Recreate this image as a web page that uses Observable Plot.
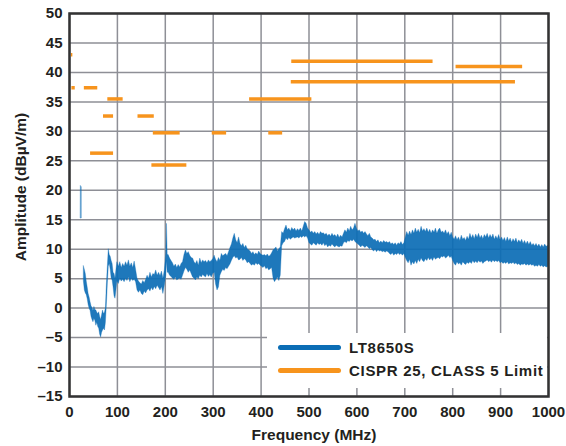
<!DOCTYPE html>
<html><head><meta charset="utf-8">
<script src="https://cdn.jsdelivr.net/npm/d3@7"></script>
<script src="https://cdn.jsdelivr.net/npm/@observablehq/plot@0.6"></script>
<style>
body{margin:0;background:#fff}
#wrap{position:relative;width:566px;height:446px;font-family:"Liberation Sans",Arial,sans-serif}
#legend{position:absolute;left:267px;top:333px;width:280px;height:55px;background:#fff}
.item{position:absolute;left:11px;height:20px;display:flex;align-items:center;font-weight:bold;font-size:15px;letter-spacing:0.7px;color:#231f20;white-space:nowrap}
.sw{width:63px;height:5px;border-radius:3px;margin-right:8px}
</style></head><body>
<div id="wrap"></div>
<script>
// LT8650S measured emission (envelope of the noisy trace), MHz / dBµV/m
const freq = [
24,25.5,27,30,32,34,36,38,40,42,
44,46,48,50,52,54,56,58,60,62,
64,66,68,70,72,74,76,78,80,82,
84,86,88,90,92,94,96,98,100,103,
106,109,112,115,118,121,124,127,130,133,
136,139,142,145,148,151,154,157,160,163,
166,169,172,175,178,181,184,187,190,193,
196,199,202,203.5,205,207,210,213,216,219,
222,225,228,231,234,237,240,243,246,249,
252,255,258,261,264,267,270,273,276,279,
282,285,288,291,294,297,300,303,306,309,
312,315,318,321,324,327,330,333,336,339,
342,345,348,351,354,357,360,363,366,369,
372,375,378,381,384,387,390,393,396,399,
402,405,408,411,414,417,420,423,426,429,
432,435,438,441,444,447,450,453,456,459,
462,465,468,471,474,477,480,483,486,489,
492,495,498,501,504,507,510,513,516,519,
522,525,528,531,534,537,540,543,546,549,
552,555,558,561,564,567,570,573,576,579,
582,585,588,591,594,597,600,603,606,609,
612,615,618,621,624,627,630,633,636,639,
642,645,648,651,654,657,660,663,666,669,
672,675,678,681,684,687,690,693,696,699,
702,705,708,711,714,717,720,723,726,729,
732,735,738,741,744,747,750,753,756,759,
762,765,768,771,774,777,780,783,786,789,
792,795,798,801,804,807,810,813,816,819,
822,825,828,831,834,837,840,843,846,849,
852,855,858,861,864,867,870,873,876,879,
882,885,888,891,894,897,900,903,906,909,
912,915,918,921,924,927,930,933,936,939,
942,945,948,951,954,957,960,963,966,969,
972,975,978,981,984,987,990,993,996,1000];
const low = [
15.2,15.2,NaN,4.5,3.0,2.5,2.2,1.5,0.5,-0.1,
-0.5,-1.5,-2.0,-2.4,-1.8,-2.2,-3.0,-2.5,-3.2,-3.5,
-4.5,-5.0,-4.2,-3.8,-3.5,-3.8,-2.5,0.5,4.0,7.0,
7.5,6.5,5.0,4.7,3.5,2.0,1.6,3.0,4.5,4.1,
5.0,4.5,4.8,4.4,5.0,4.6,5.2,4.4,5.0,4.6,
4.8,4.4,3.0,2.6,3.0,2.4,2.2,2.8,2.5,3.0,
3.2,2.8,3.4,3.0,3.6,3.2,3.8,3.4,3.0,3.6,
2.4,3.8,5.5,8.0,6.0,6.0,5.5,5.3,5.0,4.8,
5.2,4.7,4.9,5.0,4.8,5.5,6.2,6.8,6.5,6.0,
6.4,5.8,5.2,5.0,4.7,5.2,4.9,5.5,5.2,5.6,
5.4,5.2,5.8,5.3,5.6,5.2,5.8,6.0,4.0,3.0,
3.5,5.5,6.1,6.5,6.3,6.8,6.6,7.0,7.4,8.0,
8.5,8.8,8.4,8.6,8.1,8.2,8.5,8.0,8.3,8.1,
7.6,7.8,7.5,7.2,7.4,7.2,7.6,7.3,7.5,7.2,
7.0,6.8,7.1,6.6,6.8,6.4,6.6,6.8,5.0,4.4,
4.8,5.2,4.6,5.5,10.5,11.0,11.2,11.8,11.5,11.9,
11.6,11.8,12.0,11.8,11.9,12.0,11.8,12.1,11.9,12.2,
12.0,12.2,11.8,11.0,10.8,10.6,11.0,10.8,10.6,11.0,
10.7,10.9,10.6,11.0,10.5,10.8,10.3,10.6,10.4,10.8,
10.5,10.3,10.6,10.4,10.3,10.5,10.4,11.0,11.2,11.0,
11.4,11.2,11.5,11.3,11.6,11.2,11.0,10.8,10.6,10.3,
10.6,10.4,10.2,10.5,10.3,10.0,10.2,9.8,9.6,9.9,
9.5,9.8,9.6,9.7,9.5,9.6,9.4,9.6,9.5,9.2,
9.0,9.3,8.9,9.2,9.0,9.3,9.0,9.2,8.9,9.2,
8.5,8.0,7.6,8.2,7.2,7.8,7.4,8.0,7.5,8.2,
7.8,8.4,8.0,7.8,8.3,8.0,8.5,8.1,8.4,8.0,
8.6,8.2,8.4,8.5,8.3,8.7,8.6,8.8,8.4,8.6,
8.9,8.5,8.7,8.0,7.5,7.2,7.8,7.4,7.6,7.2,
7.8,7.5,7.3,7.7,7.5,7.8,7.5,8.0,7.6,7.9,
7.6,8.0,7.7,7.9,7.5,7.8,7.9,8.1,7.8,8.0,
7.7,8.1,7.8,8.0,7.8,8.0,7.6,7.8,7.5,7.7,
7.5,7.8,7.4,7.6,7.5,7.7,7.4,7.6,7.3,7.5,
7.2,7.4,7.3,7.5,7.2,7.4,7.2,7.4,7.2,7.3,
7.0,7.2,7.0,7.3,7.0,7.2,6.9,7.1,6.9,7.0];
const high = [
20.7,20.5,NaN,7.1,6.5,5.8,4.5,3.5,2.4,1.8,
1.0,0.3,0.0,-0.5,0.2,-0.3,-0.4,-0.8,-1.0,-0.7,
-1.5,-2.0,-1.2,-0.4,-1.0,-0.8,0.0,4.0,7.0,10.0,
9.0,8.7,8.0,7.5,6.0,5.8,5.0,6.5,7.8,7.0,
7.8,6.8,7.5,7.0,7.8,7.2,8.1,7.0,7.6,6.8,
7.9,6.5,5.0,4.5,4.2,4.0,4.6,4.2,4.8,5.5,
5.0,6.0,5.2,5.8,5.6,6.4,5.5,6.0,5.4,6.2,
5.0,6.4,9.2,14.3,9.0,9.0,8.4,8.0,7.6,7.0,
7.4,6.8,7.3,6.9,7.5,7.8,9.0,9.8,9.2,9.5,
8.9,8.5,8.4,7.8,7.5,8.0,7.2,8.4,7.6,8.1,
7.8,8.0,7.6,8.1,7.8,8.0,8.3,8.9,8.2,7.8,
8.5,8.0,9.2,8.8,9.0,9.2,8.8,9.5,10.2,10.8,
11.8,12.6,11.5,11.0,12.0,10.9,10.5,10.9,10.2,10.6,
10.0,9.8,9.6,9.2,9.5,9.0,9.3,9.0,9.6,9.2,
9.0,8.9,9.0,8.8,9.1,8.7,8.9,9.3,9.8,10.0,
10.3,9.6,10.0,10.3,12.9,12.6,13.4,14.0,13.2,13.5,
13.0,13.6,13.2,13.5,13.0,13.4,13.1,13.5,13.0,13.8,
14.6,14.3,13.5,13.2,12.8,13.0,12.6,12.9,12.5,12.8,
12.4,12.9,12.6,12.7,12.4,12.6,12.2,12.5,12.1,12.6,
12.2,12.4,12.0,12.5,11.9,12.3,12.0,12.6,13.2,12.8,
13.5,13.0,13.8,13.2,13.5,14.3,13.5,13.0,13.2,12.8,
13.0,12.6,12.9,12.5,12.2,12.6,12.0,11.8,11.5,11.6,
11.2,11.5,11.0,11.3,11.0,11.4,11.1,11.2,11.0,11.2,
10.8,11.0,10.7,11.0,10.6,11.0,10.8,11.2,10.7,11.0,
12.0,12.9,12.3,13.0,12.4,13.2,12.6,13.5,12.8,13.3,
12.7,13.8,13.0,13.4,12.9,13.5,12.8,13.3,12.6,13.2,
12.8,13.5,12.6,13.2,13.5,12.8,13.0,12.6,13.2,12.5,
12.9,12.2,12.8,12.0,11.6,12.2,11.5,12.0,11.4,12.3,
11.6,11.9,11.4,12.1,11.6,12.6,11.8,12.4,11.7,12.5,
11.9,12.6,11.8,12.3,11.7,12.4,12.0,12.6,11.8,12.4,
11.9,12.5,11.6,12.2,11.7,12.4,11.5,12.0,11.4,11.9,
11.2,12.0,11.3,11.8,11.1,11.7,11.2,11.8,11.0,11.5,
11.1,11.6,10.9,11.4,10.8,11.3,10.7,11.2,10.6,10.9,
10.5,10.9,10.4,10.8,10.3,10.7,10.3,10.8,10.4,10.6];

// CISPR 25, Class 5 limit segments
const limStart = [4, 5, 31, 44, 71, 80, 143, 172, 175, 298, 376, 416, 463, 464, 807];
const limEnd   = [7, 12, 59, 92, 92, 112, 177, 245, 231, 328, 506, 445, 931, 759, 946];
const limLevel = [43, 37.4, 37.4, 26.3, 32.6, 35.5, 32.6, 24.3, 29.75, 29.75, 35.5, 29.75, 38.4, 41.9, 41.0];

const xTicks = [0,100,200,300,400,500,600,700,800,900,1000];
const yTicks = [-15,-10,-5,0,5,10,15,20,25,30,35,40,45,50];
const xTitle = "Frequency (MHz)";
const yTitle = "Amplitude (dBµV/m)";
const seriesNames = ["LT8650S", "CISPR 25, CLASS 5 Limit"];
const seriesColors = ["#0b6db5", "#f7941d"];

const gridStyle = {stroke: "#8e8f96", strokeOpacity: 1, strokeWidth: 1.5};

const chart = Plot.plot({
  width: 566, height: 446,
  marginLeft: 69, marginRight: 18, marginTop: 13, marginBottom: 50,
  x: {domain: [0, 1000]},
  y: {domain: [-15, 50]},
  style: {fontFamily: "Liberation Sans, Arial, sans-serif", fontSize: "15px", fontWeight: "bold", color: "#231f20", background: "white"},
  marks: [
    Plot.gridX(xTicks, gridStyle),
    Plot.gridY(yTicks, gridStyle),
    Plot.areaY(freq, {x: freq, y1: low, y2: high, fill: seriesColors[0], fillOpacity: 0.92, stroke: seriesColors[0], strokeOpacity: 0.55, strokeWidth: 0.6}),
    Plot.ruleY(limLevel, {x1: limStart, x2: limEnd, y: limLevel, stroke: seriesColors[1], strokeWidth: 3.5}),
    Plot.frame({stroke: "#333", strokeWidth: 2.5}),
    Plot.axisX(xTicks, {tickSize: 0, tickPadding: 10, label: null, fontSize: 15, fontWeight: "bold", tickFormat: d => String(d)}),
    Plot.axisY(yTicks, {tickSize: 0, tickPadding: 7, label: null, fontSize: 15, fontWeight: "bold", tickFormat: d => String(d).replace("-", "–")}),
    Plot.text([xTitle], {frameAnchor: "bottom", dy: 43, dx: 5, fontSize: 15.5, fontWeight: "bold", fill: "#231f20"}),
    Plot.text([yTitle], {frameAnchor: "left", textAnchor: "middle", dx: -48, dy: -18, rotate: -90, fontSize: 15.5, fontWeight: "bold", fill: "#231f20"})
  ]
});

const wrap = document.getElementById("wrap");
wrap.appendChild(chart);
const legend = document.createElement("div");
legend.id = "legend";
seriesNames.forEach((name, i) => {
  const item = document.createElement("div");
  item.className = "item";
  item.style.top = (4 + i * 23) + "px";
  const sw = document.createElement("span");
  sw.className = "sw";
  sw.style.background = seriesColors[i];
  const label = document.createElement("span");
  label.textContent = name;
  item.appendChild(sw);
  item.appendChild(label);
  legend.appendChild(item);
});
wrap.appendChild(legend);
</script>
</body></html>
